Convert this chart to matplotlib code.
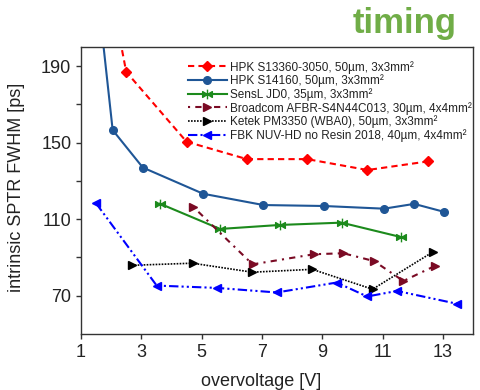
import matplotlib
matplotlib.use("Agg")
import matplotlib.pyplot as plt
from matplotlib.path import Path
import numpy as np

plt.rcParams['font.family'] = ['Liberation Sans', 'DejaVu Sans']

# ---- data ----
hpk13360_x = [2.0, 2.5, 4.5, 6.5, 8.5, 10.5, 12.5]
hpk13360_y = [228, 187, 150.5, 141.4, 141.4, 135.7, 140.2]

hpk14160_x = [1.5, 2.05, 3.05, 5.05, 7.05, 9.05, 11.05, 12.05, 13.05]
hpk14160_y = [236, 156.6, 137, 123.3, 117.4, 116.9, 115.5, 118, 113.8]

sensl_x = [3.62, 5.61, 7.6, 9.64, 11.6]
sensl_y = [118.1, 104.9, 107, 108.2, 100.7]

broadcom_x = [4.72, 6.69, 8.73, 9.7, 10.72, 11.69, 12.74]
broadcom_y = [116.5, 86.4, 91.7, 92.2, 88.1, 77.7, 85.6]

ketek_x = [2.68, 4.7, 6.68, 8.67, 10.67, 12.68]
ketek_y = [85.9, 87.0, 82.3, 83.8, 73.4, 93.0]

fbk_x = [1.5, 3.51, 5.5, 7.49, 9.48, 10.49, 11.48, 13.47]
fbk_y = [118.3, 75.3, 74.1, 71.7, 76.9, 69.6, 72.5, 65.8]

labels = ["HPK S13360-3050, 50µm, 3x3mm²",
          "HPK S14160, 50µm, 3x3mm²",
          "SensL JD0, 35µm, 3x3mm²",
          "Broadcom AFBR-S4N44C013, 30µm, 4x4mm²",
          "Ketek PM3350 (WBA0), 50µm, 3x3mm²",
          "FBK NUV-HD no Resin 2018, 40µm, 4x4mm²"]

xticks = [1, 3, 5, 7, 9, 11, 13]
yticks = [70, 90, 110, 130, 150, 170, 190]
ytick_labels = ["70", "", "110", "", "150", "", "190"]

# custom "->|<-" marker for SensL
verts = [(-1, 0.6), (0, 0), (-1, -0.6), (-1, 0.6),
         (1, 0.6), (0, 0), (1, -0.6), (1, 0.6),
         (0, 1), (0, -1)]
codes = [Path.MOVETO, Path.LINETO, Path.LINETO, Path.CLOSEPOLY,
         Path.MOVETO, Path.LINETO, Path.LINETO, Path.CLOSEPOLY,
         Path.MOVETO, Path.LINETO]
bowtie = Path(verts, codes)

fig = plt.figure(figsize=(4.81, 3.90), dpi=100)
ax = fig.add_axes([81/481, 1-334/390, (473-81)/481, (334-47)/390])

lw = 1.5
ax.plot(hpk13360_x, hpk13360_y, color='#ff0000', ls=(0, (3, 2)), lw=lw,
        marker='D', ms=4.8, label=labels[0])
ax.plot(hpk14160_x, hpk14160_y, color='#1f5696', ls='-', lw=lw,
        marker='o', ms=5.5, label=labels[1])
ax.plot(sensl_x, sensl_y, color='#1c8a1c', ls='-', lw=lw,
        marker=bowtie, ms=7, mew=1.0, label=labels[2])
ax.plot(broadcom_x, broadcom_y, color='#7a0a24', ls=(0, (1, 2.5, 3, 2.5)), lw=lw,
        marker='>', ms=5.5, label=labels[3])
ax.plot(ketek_x, ketek_y, color='#000000', ls=(0, (1, 0.8)), lw=1.2,
        marker='>', ms=6, label=labels[4])
ax.plot(fbk_x, fbk_y, color='#0000ff', ls=(0, (4.5, 1.5, 1, 1.5, 1, 1.5)), lw=lw,
        marker='<', ms=6, label=labels[5])

ax.set_xlim(1, 14)
ax.set_ylim(50, 200)
ax.set_xticks(xticks)
ax.set_yticks(yticks)
ax.set_yticklabels(ytick_labels)
ax.tick_params(direction='out', length=3.5, width=1, labelsize=13, colors='#333333',
               labelcolor='#222222')
for s in ax.spines.values():
    s.set_color('#333333')
    s.set_linewidth(1.0)

ax.set_xlabel("overvoltage [V]", fontsize=13, color='#222222')
ax.xaxis.set_label_coords(0.46, -0.135)
ax.set_ylabel("intrinsic SPTR FWHM [ps]", fontsize=13, color='#222222')
ax.yaxis.set_label_coords(-0.142, 0.51)

leg = ax.legend(loc='upper left', bbox_to_anchor=(0.272, 0.952), frameon=False,
                fontsize=8.5, handlelength=3.3, handletextpad=0.25,
                labelspacing=0.07, borderpad=0, borderaxespad=0)
for t in leg.get_texts():
    t.set_color('#222222')

fig.text(405/481, 1-33/390, "timing", color='#70ad47', fontsize=25,
         fontweight='bold', ha='center', va='baseline')

fig.savefig("out.png", dpi=100)
